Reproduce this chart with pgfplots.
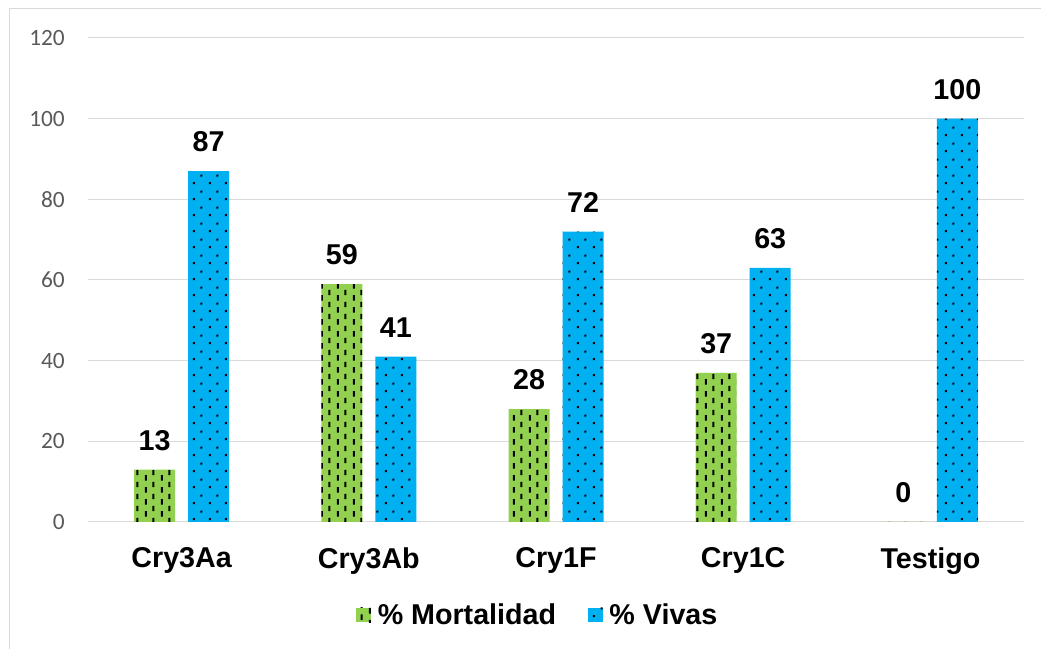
\documentclass[border=0pt]{standalone}
\usepackage{fontspec}
\setmainfont{Liberation Sans}
\newfontfamily\carlito{Carlito}
\usepackage{pgfplots}
\pgfplotsset{compat=1.18}
\usetikzlibrary{patterns}

\definecolor{vgreen}{RGB}{146,208,80}
\definecolor{vblue}{RGB}{0,176,240}
\definecolor{gridgray}{RGB}{217,217,217}
\definecolor{ticktext}{RGB}{89,89,89}

% vertical dashes for Mortalidad, dots for Vivas
\pgfdeclarepatternformonly{vdashes}{\pgfqpoint{0pt}{0pt}}{\pgfqpoint{12pt}{9pt}}{\pgfqpoint{12pt}{9pt}}{%
  \pgfsetlinewidth{1.6pt}%
  \pgfpathmoveto{\pgfqpoint{1.5pt}{0.3pt}}\pgfpathlineto{\pgfqpoint{1.5pt}{4.7pt}}%
  \pgfpathmoveto{\pgfqpoint{7.5pt}{4.8pt}}\pgfpathlineto{\pgfqpoint{7.5pt}{9pt}}%
  \pgfusepath{stroke}}
\pgfdeclarepatternformonly{sdots}{\pgfqpoint{0pt}{0pt}}{\pgfqpoint{12pt}{12pt}}{\pgfqpoint{12pt}{12pt}}{%
  \pgfpathrectangle{\pgfqpoint{0.6pt}{0.6pt}}{\pgfqpoint{1.7pt}{1.7pt}}%
  \pgfpathrectangle{\pgfqpoint{6.6pt}{6.6pt}}{\pgfqpoint{1.7pt}{1.7pt}}%
  \pgfusepath{fill}}

\begin{document}
\begin{tikzpicture}
\useasboundingbox (0,0) rectangle (780.75pt,486.75pt);
\draw[gridgray, line width=0.75pt] (6.75pt,0) -- (6.75pt,480pt) -- (780.75pt,480pt);
\begin{axis}[
  at={(66pt,95.25pt)}, anchor=south west, scale only axis,
  width=702pt, height=363pt,
  ybar=9.75pt, bar width=30.75pt,
  xmin=-0.5, xmax=4.5, ymin=0, ymax=120,
  xtick={0,...,4}, xticklabels={Cry3Aa,Cry3Ab,Cry1F,Cry1C,Testigo},
  ytick={0,20,...,120},
  ymajorgrids, grid style={gridgray, line width=0.75pt},
  axis line style={draw=none}, major tick length=0pt,
  xticklabel style={font=\fontsize{21.5}{25}\selectfont\bfseries, inner sep=0pt, yshift=-19pt},
  yticklabel style={font=\carlito\fontsize{17.5}{20}\selectfont, text=ticktext, inner sep=0pt, xshift=-17.25pt},
  /pgf/number format/assume math mode=true,
  nodes near coords,
  every node near coord/.append style={font=\fontsize{21.5}{25}\selectfont\bfseries, inner sep=0pt, yshift=14pt, text=black},
  legend style={at={(0.481,-0.192)}, anchor=center, draw=none, legend columns=2,
    font=\fontsize{21.5}{25}\selectfont\bfseries,
    /tikz/every even column/.append style={column sep=22pt}},
  legend image code/.code={\draw[#1, draw=none] (0pt,-5.5pt) rectangle (11pt,5.5pt);},
]
\addplot[fill=vgreen, draw=none, postaction={pattern=vdashes}] coordinates {(0,13) (1,59) (2,28) (3,37) (4,0)};
\addlegendentry{\hspace{3pt}\% Mortalidad}
\addplot[fill=vblue, draw=none, postaction={pattern=sdots}] coordinates {(0,87) (1,41) (2,72) (3,63) (4,100)};
\addlegendentry{\hspace{3pt}\% Vivas}
\end{axis}
\end{tikzpicture}
\end{document}
